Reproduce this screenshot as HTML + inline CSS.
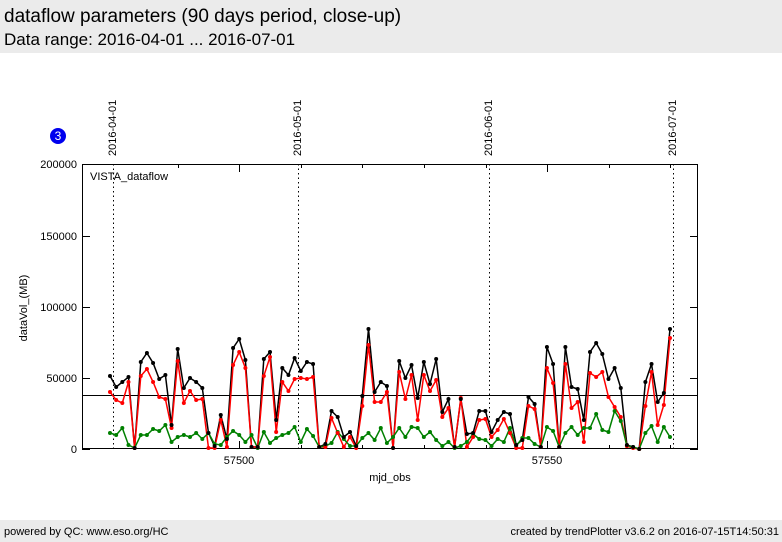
<!DOCTYPE html>
<html><head><meta charset="utf-8"><style>
body{margin:0;width:782px;height:542px;background:#fff;font-family:"Liberation Sans",sans-serif;overflow:hidden;position:relative}
.hdr{position:absolute;left:0;top:0;width:782px;height:53px;background:#ebebeb}
.t1{position:absolute;left:4px;top:6px;font-size:19px;color:#000}
.t2{position:absolute;left:4px;top:30px;font-size:17px;color:#000}
.ftr{position:absolute;left:0;top:520px;width:782px;height:22px;background:#ebebeb;font-size:11px}
</style></head><body>
<div class="hdr"><div class="t1">dataflow parameters (90 days period, close-up)</div><div class="t2">Data range: 2016-04-01 ... 2016-07-01</div></div>
<svg id="s" width="782" height="542" style="position:absolute;left:0;top:0" font-family="Liberation Sans, sans-serif" font-size="11">
<rect x="82.5" y="164.5" width="615" height="284" fill="none" stroke="#000"/>
<g stroke="#000" stroke-dasharray="1.5,3" stroke-width="1">
<line x1="113.5" y1="164" x2="113.5" y2="449"/><line x1="298.5" y1="164" x2="298.5" y2="449"/>
<line x1="489.5" y1="164" x2="489.5" y2="449"/><line x1="673.5" y1="164" x2="673.5" y2="449"/>
</g>
<line x1="82" y1="395.5" x2="698" y2="395.5" stroke="#000"/>
<g text-anchor="end" fill="#000">
<text x="77" y="168">200000</text><text x="77" y="240">150000</text><text x="77" y="311">100000</text><text x="77" y="382">50000</text><text x="77" y="453">0</text>
</g>
<text x="239" y="464" text-anchor="middle">57500</text><text x="547" y="464" text-anchor="middle">57550</text>
<text x="390" y="481" text-anchor="middle">mjd_obs</text>
<text transform="translate(27,308) rotate(-90)" text-anchor="middle">dataVol_(MB)</text>
<text x="90" y="180">VISTA_dataflow</text>
<g fill="#000">
<text transform="translate(116,156) rotate(-90)">2016-04-01</text>
<text transform="translate(301,156) rotate(-90)">2016-05-01</text>
<text transform="translate(492,156) rotate(-90)">2016-06-01</text>
<text transform="translate(676,156) rotate(-90)">2016-07-01</text>
</g>
<circle cx="58" cy="136" r="8" fill="#0000ee"/><text x="58" y="140" fill="#fff" text-anchor="middle" font-size="12">3</text>
<g id="tk" stroke="#000"></g>
<g id="d"></g>
</svg>
<div class="ftr"><span style="position:absolute;left:4px;top:6px">powered by QC: www.eso.org/HC</span><span style="position:absolute;right:3px;top:6px">created by trendPlotter v3.6.2 on 2016-07-15T14:50:31</span></div>
<script>
var B=[376,387,382,377,448,362,353,363,379,375,425,349,388,378,382,388,433,446,415,439,348,339,360,447,447,359,352,420,368,375,358,
371,362,364,447,444,411,417,437,432,446,396,329,392,382,386,448,361,378,365,398,362,384,359,412,399,447,399,434,433,411,411,
432,420,412,414,445,440,397,404,447,347,364,447,347,387,389,420,352,343,354,379,368,388,445,447,449,382,364,402,393,329];
var R=[392,400,403,382,448,376,369,382,397,399,428,361,403,391,400,399,448,448,420,447,365,352,368,447,447,376,357,432,382,391,379,
378,379,377,447,447,418,433,447,437,448,406,345,402,402,392,448,372,399,375,420,375,391,380,417,408,447,398,447,437,420,419,
437,430,419,433,448,448,406,409,447,368,383,447,364,408,402,442,373,377,372,397,407,417,446,448,449,406,372,425,405,338];
var G=[433,435,428,445,448,435,435,429,431,425,442,437,435,437,433,439,433,444,445,437,431,435,442,435,448,432,443,438,435,433,427,
442,429,436,447,446,443,432,439,446,446,438,433,440,428,443,437,428,437,427,428,437,432,440,446,442,448,446,442,434,439,440,
446,439,442,428,446,438,438,444,447,427,431,447,433,427,435,428,428,414,430,432,411,421,446,447,449,433,426,442,427,437];
var ns="http://www.w3.org/2000/svg",d=document.getElementById("d"),tk=document.getElementById("tk");
function ser(a,c){var p="";for(var i=0;i<a.length;i++){var x=110+i*560/91;p+=x.toFixed(1)+","+a[i]+" ";
var ci=document.createElementNS(ns,"circle");ci.setAttribute("cx",x);ci.setAttribute("cy",a[i]);ci.setAttribute("r",2);ci.setAttribute("fill",c);d.appendChild(ci);}
var pl=document.createElementNS(ns,"polyline");pl.setAttribute("points",p);pl.setAttribute("fill","none");pl.setAttribute("stroke",c);pl.setAttribute("stroke-width",1.5);d.insertBefore(pl,d.firstChild);}
ser(G,"#008000");ser(R,"#ff0000");ser(B,"#000000");
function ln(x1,y1,x2,y2){var l=document.createElementNS(ns,"line");l.setAttribute("x1",x1);l.setAttribute("y1",y1);l.setAttribute("x2",x2);l.setAttribute("y2",y2);tk.appendChild(l);}
for(var k=0;k<9;k++){var x=177.5+k*61.6;x=Math.round(x)+.5;var L=(k==1||k==6)?8:4;ln(x,449,x,449-L);ln(x,164,x,164+L);}
[164,236,307,378,449].forEach(function(y){y+=.5;ln(82,y,90,y);ln(698,y,690,y);});
</script>
</body></html>
